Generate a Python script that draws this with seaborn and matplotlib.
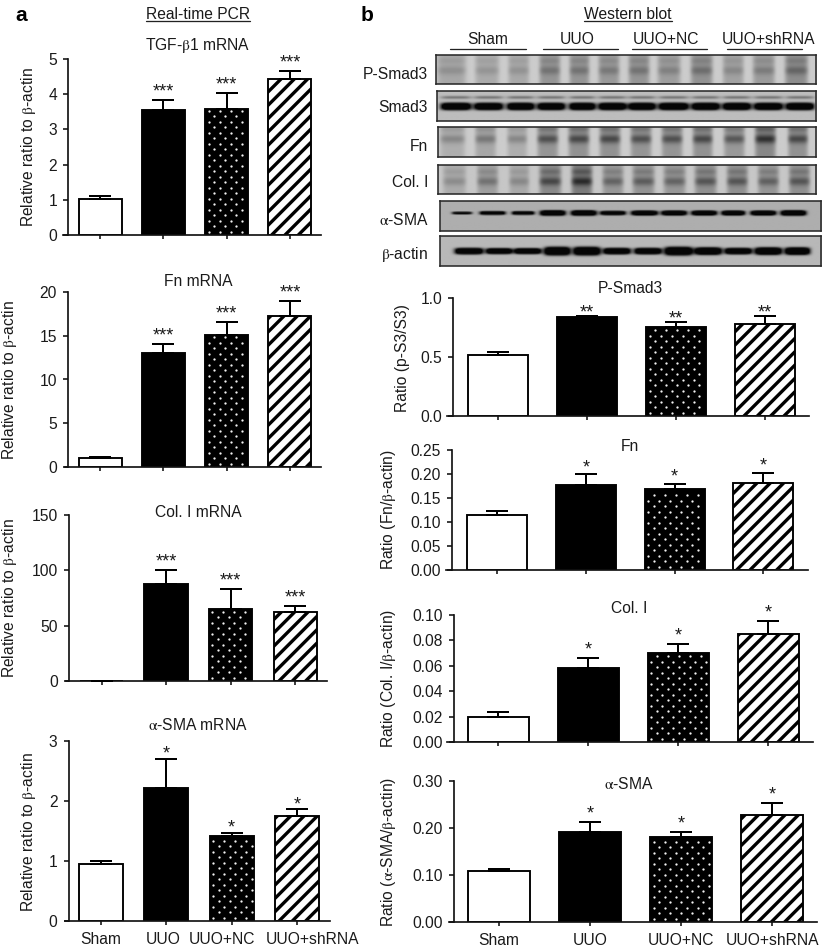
import numpy as np
import seaborn as sns
import matplotlib
matplotlib.use("Agg")
import matplotlib.pyplot as plt
from matplotlib.lines import Line2D
from matplotlib.transforms import IdentityTransform

W, H, DPI = 823, 949, 80

GROUPS = ["Sham", "UUO", "UUO+NC", "UUO+shRNA"]

# --- values (mean, top of the error bar) ---
TGF_MEAN = [1.03, 3.55, 3.58, 4.42]
TGF_TOP = [1.11, 3.83, 4.03, 4.67]
FN_MEAN = [1.0, 13.0, 15.1, 17.3]
FN_TOP = [1.1, 14.1, 16.6, 19.0]
COL_MEAN = [0, 87.5, 65, 62]
COL_TOP = [0, 100, 83, 68]
SMA_MEAN = [0.95, 2.22, 1.41, 1.75]
SMA_TOP = [1.0, 2.70, 1.47, 1.86]

WB_SMAD_MEAN = [0.52, 0.835, 0.755, 0.78]
WB_SMAD_TOP = [0.545, 0.845, 0.795, 0.85]
WB_FN_MEAN = [0.115, 0.178, 0.169, 0.181]
WB_FN_TOP = [0.123, 0.199, 0.179, 0.202]
WB_COL_MEAN = [0.0195, 0.058, 0.070, 0.085]
WB_COL_TOP = [0.0235, 0.066, 0.077, 0.095]
WB_SMA_MEAN = [0.108, 0.191, 0.181, 0.228]
WB_SMA_TOP = [0.113, 0.213, 0.191, 0.254]

STARS_A = ["", "***", "***", "***"]
STARS_A4 = ["", "*", "*", "*"]
STARS_B1 = ["", "**", "**", "**"]

# --- blot lanes, in pixels of the page ---
SMAD_P_LANES = [(437, 466), (475, 499), (508, 529), (539, 560), (569, 589), (598, 619),
                (628, 649), (657, 680), (690, 712), (722, 743), (752, 774), (784, 807)]
SMAD_LANES = [(441, 471), (474, 503), (507, 534), (537, 565), (569, 595), (598, 626),
              (628, 655), (658, 688), (691, 719), (722, 750), (753, 782), (785, 813)]
FN_LANES = [(440, 465), (475, 496), (507, 527), (537, 558), (568, 589), (599, 620),
            (630, 651), (661, 682), (692, 712), (723, 744), (754, 775), (787, 807)]
COL_LANES = [(443, 466), (477, 498), (509, 529), (539, 561), (571, 592), (602, 623),
             (632, 654), (663, 685), (694, 716), (726, 747), (757, 778), (788, 809)]
SMA_LANES = [(452, 472), (480, 505), (512, 534), (540, 565), (571, 596), (600, 625),
             (631, 657), (661, 686), (691, 716), (721, 744), (750, 775), (780, 805)]
ACTIN_LANES = [(455, 483), (486, 512), (514, 541), (544, 570), (573, 600), (603, 630),
               (634, 661), (664, 692), (694, 721), (724, 751), (754, 781), (784, 809)]

# --- blot band strength per lane ---
SMAD_P_DARK = [0.25, 0.2, 0.22, 0.5, 0.5, 0.45, 0.5, 0.38, 0.55, 0.32, 0.42, 0.62]
SMAD_DARK = [1, 0.95, 1, 0.95, 1, 1, 1, 1, 1, 1, 0.95, 1]
FN_DARK = [0.15, 0.25, 0.15, 0.5, 0.55, 0.55, 0.5, 0.5, 0.55, 0.45, 0.7, 0.55]
COL_DARK = [0.12, 0.3, 0.15, 0.6, 0.8, 0.4, 0.45, 0.4, 0.5, 0.5, 0.42, 0.5]
SMA_DARK = [0.7, 0.95, 0.9, 1, 1, 0.95, 1, 1, 1, 1, 1, 1]
ACTIN_DARK = [1, 1, 1, 1, 1, 1, 1, 1, 1, 1, 1, 1]
SMA_THICK = [2.5, 3.5, 3.5, 5, 5, 4, 4.5, 4.5, 4.5, 4.5, 4.5, 5]
ACTIN_THICK = [6, 5.5, 5.5, 8, 8, 6, 6, 8, 7, 6, 7, 7]

BLOT_LABELS = ["P-Smad3", "Smad3", "Fn", "Col. I", r"$\mathrm{\alpha}$-SMA", r"$\mathrm{\beta}$-actin"]

BETA = r"$\mathrm{\beta}$"
ALPHA = r"$\mathrm{\alpha}$"

sns.set_theme(style="ticks")
plt.rcParams["font.family"] = ["Liberation Sans", "DejaVu Sans"]
plt.rcParams["mathtext.fontset"] = "stix"
plt.rcParams["mathtext.default"] = "regular"
plt.rcParams["hatch.linewidth"] = 3.0


def pt(px):
    return px * 72 / DPI


def fx(px):
    return px / W


def fy(py):
    return 1 - py / H


fig = plt.figure(figsize=((W + 0.1) / DPI, (H + 0.1) / DPI), dpi=DPI, facecolor="white")
FS = pt(15.6)


def put(x, y, s, **kw):
    kw.setdefault("fontsize", FS)
    kw.setdefault("color", "#1a1a1a")
    kw.setdefault("ha", "center")
    kw.setdefault("va", "center")
    return fig.text(fx(x), fy(y), s, **kw)


def hline(x0, x1, y, lw=1.3):
    fig.add_artist(Line2D([fx(x0), fx(x1)], [fy(y), fy(y)], color="#222222", lw=pt(lw)))


def dot_fill(ax, patch):
    box = patch.get_window_extent()
    xs, ys = [], []
    for r, yy in enumerate(np.arange(box.y0 + 3, box.y1 - 2, 5.5)):
        start = box.x0 + 3.5 + (5.5 if r % 2 else 0)
        for xx in np.arange(start, box.x1 - 2, 11):
            xs.append(xx)
            ys.append(yy)
    ax.scatter(xs, ys, s=pt(2.3) ** 2, c="#f2f2f2", linewidths=0,
               transform=IdentityTransform(), zorder=3, clip_on=False)


def bar_panel(mean, top, yticks, ylabels, ylabel, title, stars, x_left, x_right, y_axis,
              y_hi, y_lo, tick0, step, bar_w, lab_x, lab_y, title_x, title_y, star_off,
              xlabels=None, label_shift=None):
    ax = fig.add_axes([fx(x_left), fy(y_lo), (x_right - x_left) / W, (y_lo - y_hi) / H])
    ax.patch.set_alpha(0)
    sns.barplot(x=GROUPS, y=mean, ax=ax, width=bar_w / step, color="white", saturation=1,
                edgecolor="black", linewidth=pt(1.9))
    ax.set_xlim((x_left - tick0) / step, (x_right - tick0) / step)
    ax.set_ylim(yticks[0], yticks[-1])

    bars = list(ax.patches)
    bars[1].set_facecolor("black")
    bars[2].set_facecolor("black")
    bars[3].set_hatch("//")
    dot_fill(ax, bars[2])

    err = [t - m for t, m in zip(top, mean)]
    ax.errorbar(range(4), mean, yerr=[[0] * 4, err], fmt="none", ecolor="black",
                elinewidth=pt(2), capsize=pt(11), capthick=pt(2), zorder=4)
    for i, s in enumerate(stars):
        if s:
            ax.annotate(s, xy=(i, top[i]), xytext=(0, pt(star_off)), textcoords="offset points",
                        ha="center", va="center", fontsize=pt(18), color="#1a1a1a",
                        annotation_clip=False)

    sns.despine(ax=ax)
    ax.spines["left"].set_position(("axes", (y_axis - x_left) / (x_right - x_left)))
    for side in ["left", "bottom"]:
        ax.spines[side].set_linewidth(pt(1.7))
        ax.spines[side].set_color("#111111")
    ax.set_yticks(yticks)
    ax.set_yticklabels(ylabels)
    ax.tick_params(axis="y", length=pt(5), width=pt(1.6), pad=pt(6), labelsize=FS, color="#111111",
                   labelcolor="#1a1a1a")
    ax.tick_params(axis="x", length=pt(4), width=pt(1.6), pad=pt(7), labelsize=FS, color="#111111",
                   labelcolor="#1a1a1a")
    ax.set_xticks(range(4))
    if xlabels:
        ax.set_xticklabels(xlabels)
        if label_shift:
            for lab, dx in zip(ax.get_xticklabels(), label_shift):
                lab.set_transform(lab.get_transform() + matplotlib.transforms.Affine2D().translate(dx, 0))
    else:
        ax.set_xticklabels([])
    ax.set_xlabel("")
    ax.set_ylabel(ylabel, fontsize=FS, color="#1a1a1a", va="center")
    ax.yaxis.set_label_coords(fx(lab_x), fy(lab_y), transform=fig.transFigure)
    put(title_x, title_y, title)
    return ax


def blot(x0, x1, y0, y1, lanes, dark, kind, bg, band_y, thick=None, band_amp=0.9):
    w, h = x1 - x0, y1 - y0
    xx, yy = np.meshgrid(np.arange(x0, x1) + 0.5, (np.arange(h) + 0.5) / h)
    img = np.full((h, w), float(bg))
    for k, (a, b) in enumerate(lanes):
        c, half = (a + b) / 2, (b - a) / 2
        d = dark[k]
        if kind == "smear":
            lane = np.exp(-np.abs((xx - c) / half) ** 6)
            prof = 0.55 + band_amp * np.exp(-((yy - band_y) / 0.14) ** 2) \
                + 0.45 * band_amp * np.exp(-((yy - band_y + 0.32) / 0.1) ** 2)
            img -= lane * prof * (0.14 + d * 0.5)
        else:
            t = (thick[k] if thick else 7) / h / 2
            lane = np.exp(-np.abs((xx - c) / half) ** 5)
            band = np.exp(-np.abs((yy - band_y) / t) ** 3)
            img -= 1.3 * d * lane * band
            if kind == "doublet":
                img -= 0.28 * lane * np.exp(-((yy - 0.24) / 0.05) ** 2)
    ax = fig.add_axes([fx(x0), fy(y1), w / W, h / H])
    ax.imshow(np.clip(img, 0.02, 1), cmap="gray", vmin=0, vmax=1, aspect="auto", interpolation="bilinear")
    ax.set_xticks([])
    ax.set_yticks([])
    for s in ax.spines.values():
        s.set_linewidth(pt(1.6))
        s.set_color("#2a2a2a")


# panel a
bar_panel(TGF_MEAN, TGF_TOP, [0, 1, 2, 3, 4, 5], ["0", "1", "2", "3", "4", "5"],
          f"Relative ratio to {BETA}-actin", f"TGF-{BETA}1 mRNA", STARS_A,
          63, 321, 68, 59, 235, 100, 63.3, 43, 28, 147, 198, 45, 8)
bar_panel(FN_MEAN, FN_TOP, [0, 5, 10, 15, 20], ["0", "5", "10", "15", "20"],
          f"Relative ratio to {BETA}-actin", "Fn mRNA", STARS_A,
          65, 321, 68, 292, 467, 100, 63.3, 43, 9, 380, 198, 281, 8)
bar_panel(COL_MEAN, COL_TOP, [0, 50, 100, 150], ["0", "50", "100", "150"],
          f"Relative ratio to {BETA}-actin", "Col. I mRNA", STARS_A,
          66, 327, 69, 515, 681, 101.5, 64.6, 43.5, 9, 598, 198, 512, 8)
bar_panel(SMA_MEAN, SMA_TOP, [0, 1, 2, 3], ["0", "1", "2", "3"],
          f"Relative ratio to {BETA}-actin", f"{ALPHA}-SMA mRNA", STARS_A4,
          65, 330, 68.5, 741, 921, 100.5, 65.6, 44, 28, 832, 198, 725, 5,
          xlabels=GROUPS, label_shift=[0, -3, -10, 15])

# panel b, bars
bar_panel(WB_SMAD_MEAN, WB_SMAD_TOP, [0, 0.5, 1.0], ["0.0", "0.5", "1.0"],
          "Ratio (p-S3/S3)", "P-Smad3", STARS_B1,
          447, 809, 453, 298, 416, 498, 89, 60, 402, 358, 630, 288, 3)
bar_panel(WB_FN_MEAN, WB_FN_TOP, [0, 0.05, 0.10, 0.15, 0.20, 0.25],
          ["0.00", "0.05", "0.10", "0.15", "0.20", "0.25"],
          f"Ratio (Fn/{BETA}-actin)", "Fn", STARS_A4,
          446, 808, 452, 450, 570, 497, 88.8, 60, 388, 510, 630, 446, 7)
bar_panel(WB_COL_MEAN, WB_COL_TOP, [0, 0.02, 0.04, 0.06, 0.08, 0.10],
          ["0.00", "0.02", "0.04", "0.06", "0.08", "0.10"],
          f"Ratio (Col. I/{BETA}-actin)", "Col. I", STARS_A4,
          447, 813, 454, 615, 742, 498, 90, 61, 388, 678, 629, 608, 8)
bar_panel(WB_SMA_MEAN, WB_SMA_TOP, [0, 0.10, 0.20, 0.30], ["0.00", "0.10", "0.20", "0.30"],
          f"Ratio ({ALPHA}-SMA/{BETA}-actin)", f"{ALPHA}-SMA", STARS_A4,
          449, 817, 454, 781, 922, 499, 91, 62, 388, 852, 629, 784, 8,
          xlabels=GROUPS)

# panel b, blots
blot(436, 816, 55, 84, SMAD_P_LANES, SMAD_P_DARK, "smear", 0.8, 0.55, band_amp=0.35)
blot(437, 816, 91, 121, SMAD_LANES, SMAD_DARK, "doublet", 0.74, 0.53)
blot(438, 816, 127, 157, FN_LANES, FN_DARK, "smear", 0.8, 0.42, band_amp=0.7)
blot(438, 816, 165, 194, COL_LANES, COL_DARK, "smear", 0.78, 0.58, band_amp=0.6)
blot(440, 821, 201, 231, SMA_LANES, SMA_DARK, "band", 0.68, 0.42, SMA_THICK)
blot(440, 821, 236, 266, ACTIN_LANES, ACTIN_DARK, "band", 0.72, 0.52, ACTIN_THICK)

for label, y in zip(BLOT_LABELS, [74, 107, 146, 182, 220, 254]):
    put(428, y, label, ha="right")

for name, cx, a, b in zip(GROUPS, [488, 577, 666, 768], [450, 543, 632, 727], [526, 618, 707, 802]):
    put(cx, 39, name)
    hline(a, b, 49)

put(21, 15, "a", fontsize=pt(21), fontweight="bold", color="black")
put(367, 15, "b", fontsize=pt(21), fontweight="bold", color="black")
put(198, 14, "Real-time PCR")
hline(146, 250, 21)
put(628, 14, "Western blot")
hline(584, 672, 21)

fig.savefig("out.png", dpi=DPI)
